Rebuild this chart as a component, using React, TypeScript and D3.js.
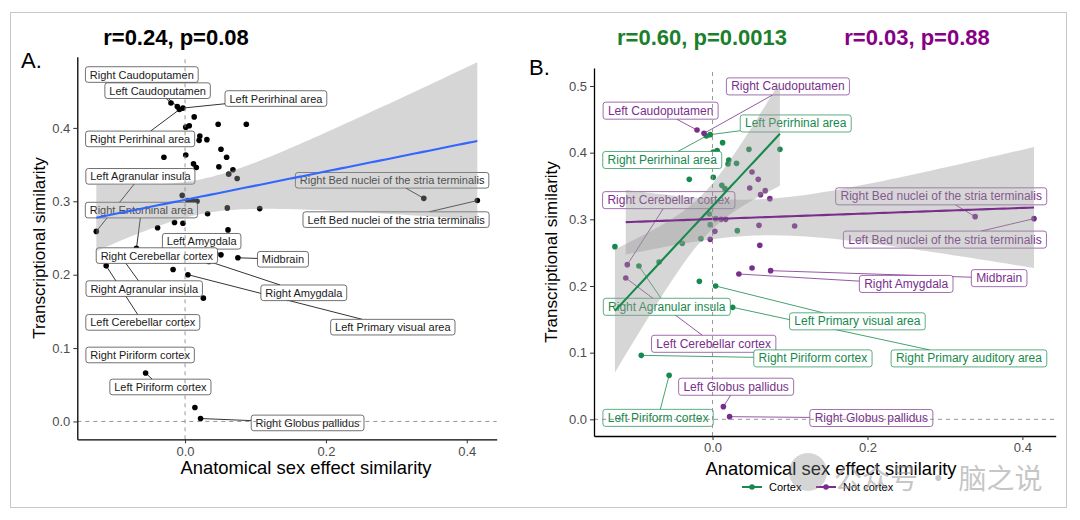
import React, { useEffect, useRef } from "react";
import * as d3 from "d3";

// ---------------- DATA ----------------
const regionNames = [
  "Right Perirhinal area", "Left Perirhinal area", "", "", "", "", "", "", "", "",
  "", "", "", "", "", "", "", "", "", "Left Agranular insula",
  "Right Agranular insula", "Right Entorhinal area", "", "Left Primary visual area", "Right Primary auditory area",
  "Right Piriform cortex", "Left Piriform cortex",
  "Left Caudoputamen", "Right Caudoputamen", "", "", "", "", "", "", "", "",
  "", "", "", "", "", "", "Right Cerebellar cortex", "Left Cerebellar cortex", "Right Amygdala",
  "Left Amygdala", "Midbrain", "Left Globus pallidus", "Right Globus pallidus",
  "Right Bed nuclei of the stria terminalis", "Left Bed nuclei of the stria terminalis",
];
const anatomicalSim = [
  -0.008, -0.003, 0.013, 0.001, 0.006, 0.047, 0.087, 0.021, 0.020, 0.031,
  -0.030, 0.001, 0.012, 0.016, -0.004, -0.003, -0.015, -0.039, 0.032, -0.126,
  -0.095, -0.069, -0.017, 0.004, 0.026, -0.092, -0.056,
  -0.020, -0.011, 0.051, 0.059, 0.048, 0.068, 0.062, 0.074, 0.004, 0.011,
  0.017, 0.003, -0.003, 0.060, 0.106, 0.061, -0.110, -0.112, 0.034,
  0.051, 0.075, 0.014, 0.022, 0.339, 0.415,
];
const transcriptionalSim = [
  0.425, 0.427, 0.415, 0.401, 0.403, 0.405, 0.405, 0.389, 0.383, 0.384,
  0.360, 0.363, 0.351, 0.346, 0.308, 0.292, 0.271, 0.264, 0.283, 0.259,
  0.230, 0.236, 0.207, 0.200, 0.168, 0.096, 0.066,
  0.434, 0.429, 0.371, 0.360, 0.347, 0.343, 0.337, 0.331, 0.301, 0.300,
  0.300, 0.282, 0.270, 0.291, 0.290, 0.261, 0.232, 0.212, 0.218,
  0.227, 0.223, 0.019, 0.004, 0.304, 0.301,
];
const isCortex = [
  true, true, true, true, true, true, true, true, true, true,
  true, true, true, true, true, true, true, true, true, true,
  true, true, true, true, true, true, true,
  false, false, false, false, false, false, false, false, false, false,
  false, false, false, false, false, false, false, false, false,
  false, false, false, false, false, false,
];
// regions left out of the fitted trend lines
const excludedFromFit = ["Left Globus pallidus", "Right Globus pallidus"];

const xTicks = [0.0, 0.2, 0.4];
const yTicksA = [0.0, 0.1, 0.2, 0.3, 0.4];
const yTicksB = [0.0, 0.1, 0.2, 0.3, 0.4, 0.5];

const titleA = "r=0.24, p=0.08";
const titleBCortex = "r=0.60, p=0.0013";
const titleBNot = "r=0.03, p=0.88";
const legendLabels = ["Cortex", "Not cortex"];

// label annotations: [region, label centre x, label centre y] (data units)
const labelsA: [string, number, number][] = [
  ["Right Caudoputamen", -0.0614, 0.4727],
  ["Left Caudoputamen", -0.039, 0.4507],
  ["Left Perirhinal area", 0.129, 0.44],
  ["Right Perirhinal area", -0.0638, 0.385],
  ["Left Agranular insula", -0.0634, 0.334],
  ["Right Bed nuclei of the stria terminalis", 0.294, 0.3286],
  ["Right Entorhinal area", -0.062, 0.288],
  ["Left Bed nuclei of the stria terminalis", 0.2996, 0.275],
  ["Left Amygdala", 0.0236, 0.2455],
  ["Midbrain", 0.139, 0.221],
  ["Right Cerebellar cortex", -0.04, 0.226],
  ["Right Amygdala", 0.1686, 0.1753],
  ["Right Agranular insula", -0.058, 0.181],
  ["Left Primary visual area", 0.295, 0.1285],
  ["Left Cerebellar cortex", -0.06, 0.135],
  ["Right Piriform cortex", -0.0638, 0.0906],
  ["Left Piriform cortex", -0.035, 0.047],
  ["Right Globus pallidus", 0.174, -0.002],
];
const labelsB: [string, number, number][] = [
  ["Right Caudoputamen", 0.0973, 0.4994],
  ["Left Caudoputamen", -0.067, 0.463],
  ["Left Perirhinal area", 0.1074, 0.4438],
  ["Right Perirhinal area", -0.0649, 0.389],
  ["Right Cerebellar cortex", -0.0565, 0.3288],
  ["Right Bed nuclei of the stria terminalis", 0.2952, 0.3345],
  ["Left Bed nuclei of the stria terminalis", 0.3, 0.2696],
  ["Midbrain", 0.37, 0.2118],
  ["Right Amygdala", 0.25, 0.2031],
  ["Right Agranular insula", -0.059, 0.1688],
  ["Left Primary visual area", 0.187, 0.147],
  ["Left Cerebellar cortex", 0.0015, 0.1133],
  ["Right Piriform cortex", 0.1296, 0.0914],
  ["Right Primary auditory area", 0.331, 0.0914],
  ["Left Globus pallidus", 0.0305, 0.0489],
  ["Left Piriform cortex", -0.0703, 0.0022],
  ["Right Globus pallidus", 0.205, 0.002],
];

// ---------------- STYLE ----------------
const FONT = "'Liberation Sans', Arial, Helvetica, sans-serif";
const GREEN = "#168a4c";
const PURPLE = "#7a2e8c";
const GREEN_TITLE = "#1b7f2c";
const PURPLE_TITLE = "#860086";
const BLUE = "#3366FF";

function tq975(df: number) {
  const z = 1.959964;
  return (
    z +
    (z ** 3 + z) / (4 * df) +
    (5 * z ** 5 + 16 * z ** 3 + 3 * z) / (96 * df * df) +
    (3 * z ** 7 + 19 * z ** 5 + 17 * z ** 3 - 15 * z) / (384 * df ** 3)
  );
}

function fitLm(xs: number[], ys: number[]) {
  const n = xs.length;
  const mx = d3.mean(xs)!;
  const my = d3.mean(ys)!;
  let sxx = 0, sxy = 0;
  for (let i = 0; i < n; i++) {
    sxx += (xs[i] - mx) ** 2;
    sxy += (xs[i] - mx) * (ys[i] - my);
  }
  const b = sxy / sxx;
  const a = my - b * mx;
  let sse = 0;
  for (let i = 0; i < n; i++) sse += (ys[i] - a - b * xs[i]) ** 2;
  const s = Math.sqrt(sse / (n - 2));
  const t = tq975(n - 2);
  const [lo, hi] = d3.extent(xs) as [number, number];
  const pts = d3.range(80).map((k) => {
    const x = lo + ((hi - lo) * k) / 79;
    const f = a + b * x;
    const se = s * Math.sqrt(1 / n + (x - mx) ** 2 / sxx);
    return { x, f, lo: f - t * se, hi: f + t * se };
  });
  return pts;
}

type PanelCfg = {
  xRange: [number, number];
  yRange: [number, number];
  xDomain: [number, number];
  yDomain: [number, number];
  yTicks: number[];
  labels: [string, number, number][];
  colored: boolean;
  labelFont: number;
  xTitleX: number;
  xTitleY: number;
  yTitleX: number;
};

function drawPanel(root: d3.Selection<SVGGElement, unknown, null, undefined>, cfg: PanelCfg) {
  const x = d3.scaleLinear().domain(cfg.xDomain).range(cfg.xRange);
  const y = d3.scaleLinear().domain(cfg.yDomain).range(cfg.yRange);
  const idx = d3.range(regionNames.length);
  const colorOf = (i: number) => (cfg.colored ? (isCortex[i] ? GREEN : PURPLE) : "#000");

  // points
  root
    .append("g")
    .selectAll("circle")
    .data(idx)
    .join("circle")
    .attr("cx", (i) => x(anatomicalSim[i]))
    .attr("cy", (i) => y(transcriptionalSim[i]))
    .attr("r", 2.8)
    .attr("fill", (i) => colorOf(i));

  // labels
  const fs = cfg.labelFont;
  const segG = root.append("g");
  const labG = root.append("g");
  cfg.labels.forEach(([name, lx, ly]) => {
    const i = regionNames.indexOf(name);
    const col = cfg.colored ? colorOf(i) : "#000";
    const cx = x(lx), cy = y(ly);
    const g = labG.append("g");
    const rect = g.append("rect");
    const txt = g
      .append("text")
      .attr("x", cx)
      .attr("y", cy)
      .attr("text-anchor", "middle")
      .attr("dominant-baseline", "central")
      .attr("font-family", FONT)
      .attr("font-size", fs)
      .attr("fill", cfg.colored ? col : "#1a1a1a")
      .text(name);
    const tw = (txt.node() as SVGTextElement).getComputedTextLength();
    const w = tw + fs * 0.8;
    const h = fs * 1.42;
    rect
      .attr("x", cx - w / 2)
      .attr("y", cy - h / 2)
      .attr("width", w)
      .attr("height", h)
      .attr("rx", 2.5)
      .attr("fill", "#fff")
      .attr("stroke", cfg.colored ? col : "#333")
      .attr("stroke-width", 0.7);
    // segment
    const px = x(anatomicalSim[i]), py = y(transcriptionalSim[i]);
    const dx = px - cx, dy = py - cy;
    const tx = dx === 0 ? Infinity : w / 2 / Math.abs(dx);
    const ty = dy === 0 ? Infinity : h / 2 / Math.abs(dy);
    const t = Math.min(tx, ty);
    if (t < 1) {
      const ex = cx + t * dx, ey = cy + t * dy;
      const len = Math.hypot(px - ex, py - ey);
      if (len > 6) {
        segG
          .append("line")
          .attr("x1", px)
          .attr("y1", py)
          .attr("x2", ex)
          .attr("y2", ey)
          .attr("stroke", col)
          .attr("stroke-width", 0.8);
      }
    }
  });

  // smooths
  const fitIdx = idx.filter((i) => !excludedFromFit.includes(regionNames[i]));
  const groups = cfg.colored
    ? [
        { sel: fitIdx.filter((i) => isCortex[i]), col: GREEN },
        { sel: fitIdx.filter((i) => !isCortex[i]), col: PURPLE },
      ]
    : [{ sel: fitIdx, col: BLUE }];
  const fits = groups.map((gr) => ({
    col: gr.col,
    pts: fitLm(gr.sel.map((i) => anatomicalSim[i]), gr.sel.map((i) => transcriptionalSim[i])),
  }));
  fits.forEach((f) => {
    root
      .append("path")
      .attr(
        "d",
        d3
          .area<any>()
          .x((d) => x(d.x))
          .y0((d) => y(d.lo))
          .y1((d) => y(d.hi))(f.pts)
      )
      .attr("fill", "#999999")
      .attr("fill-opacity", 0.4);
  });
  fits.forEach((f) => {
    root
      .append("path")
      .attr(
        "d",
        d3
          .line<any>()
          .x((d) => x(d.x))
          .y((d) => y(d.f))(f.pts)
      )
      .attr("fill", "none")
      .attr("stroke", f.col)
      .attr("stroke-width", 2.1);
  });

  // reference lines
  root
    .append("line")
    .attr("x1", x(0))
    .attr("x2", x(0))
    .attr("y1", cfg.yRange[0])
    .attr("y2", cfg.yRange[1])
    .attr("stroke", "#8c8c8c")
    .attr("stroke-width", 0.9)
    .attr("stroke-dasharray", "4,4");
  root
    .append("line")
    .attr("x1", cfg.xRange[0])
    .attr("x2", cfg.xRange[1])
    .attr("y1", y(0))
    .attr("y2", y(0))
    .attr("stroke", "#8c8c8c")
    .attr("stroke-width", 0.9)
    .attr("stroke-dasharray", "4,4");

  // axes
  const xAxis = root.append("g").attr("transform", `translate(0,${cfg.yRange[0]})`);
  xAxis.call(d3.axisBottom(x).tickValues(xTicks).tickFormat(d3.format(".1f")).tickSize(4).tickSizeOuter(0));
  const yAxis = root.append("g").attr("transform", `translate(${cfg.xRange[0]},0)`);
  yAxis.call(d3.axisLeft(y).tickValues(cfg.yTicks).tickFormat(d3.format(".1f")).tickSize(4).tickSizeOuter(0));
  [xAxis, yAxis].forEach((ax) => {
    ax.select(".domain").attr("stroke", "#000").attr("stroke-width", 1.3);
    ax.selectAll(".tick line").attr("stroke", "#333").attr("stroke-width", 1);
    ax.selectAll(".tick text").attr("font-family", FONT).attr("font-size", 13).attr("fill", "#4d4d4d");
  });
  xAxis.selectAll(".tick text").attr("dy", "0.71em").attr("y", 7);
  yAxis.selectAll(".tick text").attr("x", -7);

  // axis titles
  const midY = (cfg.yRange[0] + cfg.yRange[1]) / 2;
  root
    .append("text")
    .attr("x", cfg.xTitleX)
    .attr("y", cfg.xTitleY)
    .attr("text-anchor", "middle")
    .attr("font-family", FONT)
    .attr("font-size", 18.4)
    .attr("fill", "#000")
    .text("Anatomical sex effect similarity");
  root
    .append("text")
    .attr("transform", `translate(${cfg.yTitleX},${midY}) rotate(-90)`)
    .attr("text-anchor", "middle")
    .attr("font-family", FONT)
    .attr("font-size", 17)
    .attr("fill", "#000")
    .text("Transcriptional similarity");
}

export default function App() {
  const ref = useRef<SVGSVGElement>(null);
  useEffect(() => {
    const svg = d3.select(ref.current as SVGSVGElement);
    svg.selectAll("*").remove();

    svg
      .append("rect")
      .attr("x", 10.5)
      .attr("y", 12.5)
      .attr("width", 1056)
      .attr("height", 495)
      .attr("fill", "#fff")
      .attr("stroke", "#c8c8c8")
      .attr("stroke-width", 1);

    const gA = svg.append("g") as any;
    drawPanel(gA, {
      xRange: [77.3, 496.7],
      yRange: [439.3, 56.7],
      xDomain: [-0.153, 0.4425],
      yDomain: [-0.0243, 0.497],
      yTicks: yTicksA,
      labels: labelsA,
      colored: false,
      labelFont: 11,
      xTitleX: 306,
      xTitleY: 474,
      yTitleX: 45,
    });
    const gB = svg.append("g") as any;
    drawPanel(gB, {
      xRange: [594, 1055.7],
      yRange: [436, 68],
      xDomain: [-0.153, 0.443],
      yDomain: [-0.025, 0.527],
      yTicks: yTicksB,
      labels: labelsB,
      colored: true,
      labelFont: 12,
      xTitleX: 831,
      xTitleY: 475,
      yTitleX: 557,
    });

    // panel tags
    svg.append("text").attr("x", 21).attr("y", 68).attr("font-family", FONT).attr("font-size", 22).text("A.");
    svg.append("text").attr("x", 529).attr("y", 75).attr("font-family", FONT).attr("font-size", 22).text("B.");

    // titles
    const titles: [string, number, string][] = [
      [titleA, 176, "#000"],
      [titleBCortex, 702, GREEN_TITLE],
      [titleBNot, 917, PURPLE_TITLE],
    ];
    titles.forEach(([t, cx, col]) => {
      svg
        .append("text")
        .attr("x", cx)
        .attr("y", 45)
        .attr("text-anchor", "middle")
        .attr("font-family", FONT)
        .attr("font-weight", "bold")
        .attr("font-size", 22)
        .attr("fill", col)
        .text(t);
    });

    // legend
    const leg = svg.append("g");
    const legItems: [string, string, number][] = [
      [legendLabels[0], GREEN, 742],
      [legendLabels[1], PURPLE, 816],
    ];
    legItems.forEach(([t, col, lx]) => {
      leg.append("line").attr("x1", lx).attr("x2", lx + 20).attr("y1", 487).attr("y2", 487).attr("stroke", col).attr("stroke-width", 2);
      leg.append("circle").attr("cx", lx + 10).attr("cy", 487).attr("r", 2.8).attr("fill", col);
      leg
        .append("text")
        .attr("x", lx + 27)
        .attr("y", 491)
        .attr("font-family", FONT)
        .attr("font-size", 11)
        .attr("fill", "#000")
        .text(t);
    });

    // watermark
    svg.append("circle").attr("cx", 808).attr("cy", 472).attr("r", 19).attr("fill", "#888").attr("opacity", 0.35);
    svg
      .append("text")
      .attr("x", 834)
      .attr("y", 489)
      .attr("font-family", "'Noto Sans CJK SC', sans-serif")
      .attr("font-size", 28)
      .attr("fill", "#999")
      .attr("opacity", 0.55)
      .text("公众号 · 脑之说");
  }, []);
  return (
    <svg
      ref={ref}
      width={1080}
      height={520}
      style={{ position: "absolute", left: 0, top: 0, background: "#fff", display: "block" }}
    />
  );
}
